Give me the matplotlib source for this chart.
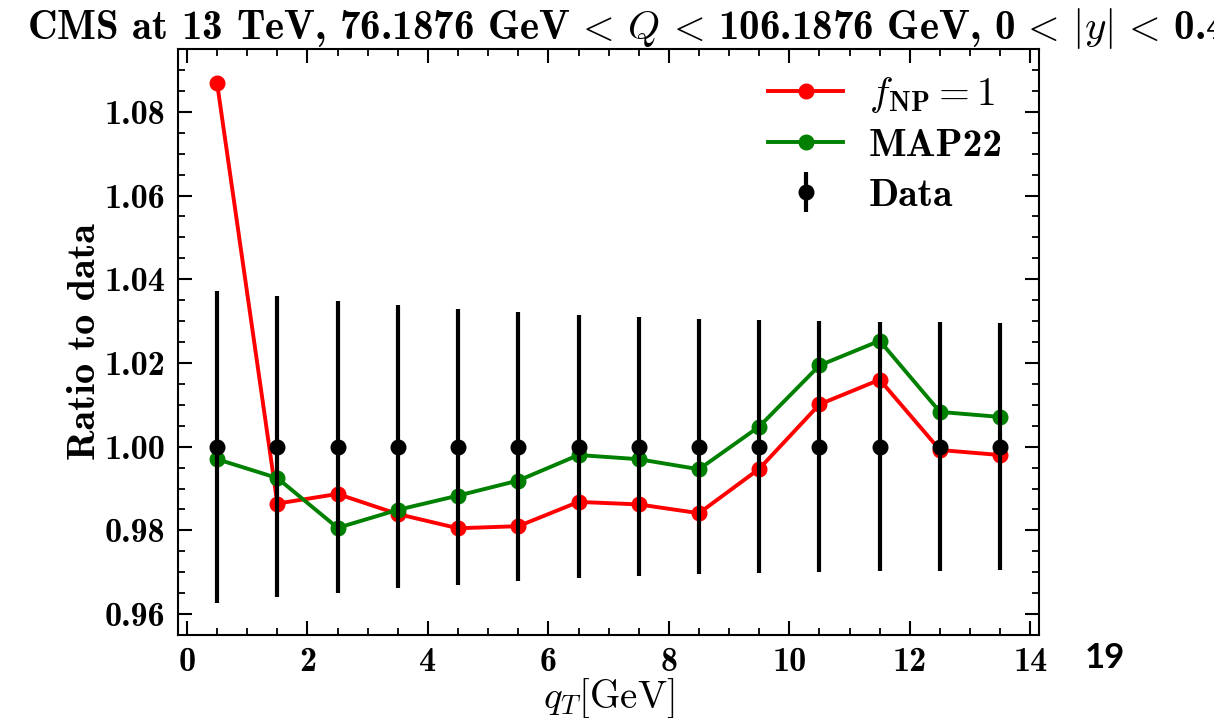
import numpy as np
import matplotlib
matplotlib.use("Agg")
import matplotlib.pyplot as plt

plt.rcParams['font.family'] = 'cmb10'
plt.rcParams['mathtext.fontset'] = 'cm'
plt.rcParams['axes.unicode_minus'] = False

# bin centres in qT [GeV]
qT = [0.5, 1.5, 2.5, 3.5, 4.5, 5.5, 6.5, 7.5, 8.5, 9.5, 10.5, 11.5, 12.5, 13.5]

# ratio to data
ratio_fnp1 = [1.0868, 0.9864, 0.9887, 0.9839, 0.9805, 0.9810, 0.9868,
              0.9862, 0.9841, 0.9947, 1.0101, 1.0160, 0.9992, 0.9980]
ratio_map22 = [0.9970, 0.9925, 0.9806, 0.9849, 0.9883, 0.9919, 0.9980,
               0.9970, 0.9946, 1.0048, 1.0194, 1.0253, 1.0083, 1.0071]
data_ratio = [1.0] * 14
data_err = [0.0373, 0.0360, 0.0349, 0.0338, 0.0330, 0.0322, 0.0315,
            0.0310, 0.0305, 0.0302, 0.0300, 0.0298, 0.0297, 0.0295]

fig = plt.figure(figsize=(12.14, 7.18), dpi=100)
ax = fig.add_axes([0.1466, 0.1156, 0.7095, 0.8161])

ax.plot(qT, ratio_fnp1, color='red', marker='o', markersize=10.5, linewidth=2.8,
        label=r'$f_{\mathbf{NP}} = \mathbf{1}$')
ax.plot(qT, ratio_map22, color='green', marker='o', markersize=10.5, linewidth=2.8,
        label='MAP22')
ax.errorbar(qT, data_ratio, yerr=data_err, fmt='o', color='black', markersize=10.5,
            elinewidth=3, capsize=0, label='Data')

ax.set_ylabel('Ratio to data', fontsize=29, labelpad=1)
ax.set_xlabel(r'$q_T[\mathrm{GeV}]$', fontsize=28, labelpad=-1.5)

ax.set_xticks(np.arange(0, 15, 2))
ax.set_xticks(np.arange(0, 14.01, 0.5), minor=True)
ax.set_yticks([0.96, 0.98, 1.00, 1.02, 1.04, 1.06, 1.08])
ax.set_yticks(np.arange(0.955, 1.095, 0.005), minor=True)
ax.set_yticklabels(['0.96', '0.98', '1.00', '1.02', '1.04', '1.06', '1.08'])
ax.tick_params(which='both', direction='in', top=True, right=True,
               labelsize=24.5, pad=9)
ax.tick_params(which='major', length=10, width=1.5)
ax.tick_params(which='minor', length=5, width=1.3)
for s in ax.spines.values():
    s.set_linewidth(1.5)

ax.legend(loc='upper right', bbox_to_anchor=(0.988, 1.0), frameon=False,
          fontsize=28.5, handlelength=1.9, handletextpad=0.65,
          labelspacing=0.35, borderaxespad=0.25)

fig.text(27 / 1214, 1 - 38.7 / 718,
         r'CMS at 13 TeV, 76.1876 GeV$\,<\,Q\,<\,$106.1876 GeV, 0$\,<\,|y|\,<\,$0.4',
         fontsize=29.5, ha='left', va='baseline')

fig.text(1085 / 1214, 1 - 658 / 718, '19', family='Lato', weight='bold',
         fontsize=25, ha='left', va='center')

fig.savefig('out.png', dpi=100)
